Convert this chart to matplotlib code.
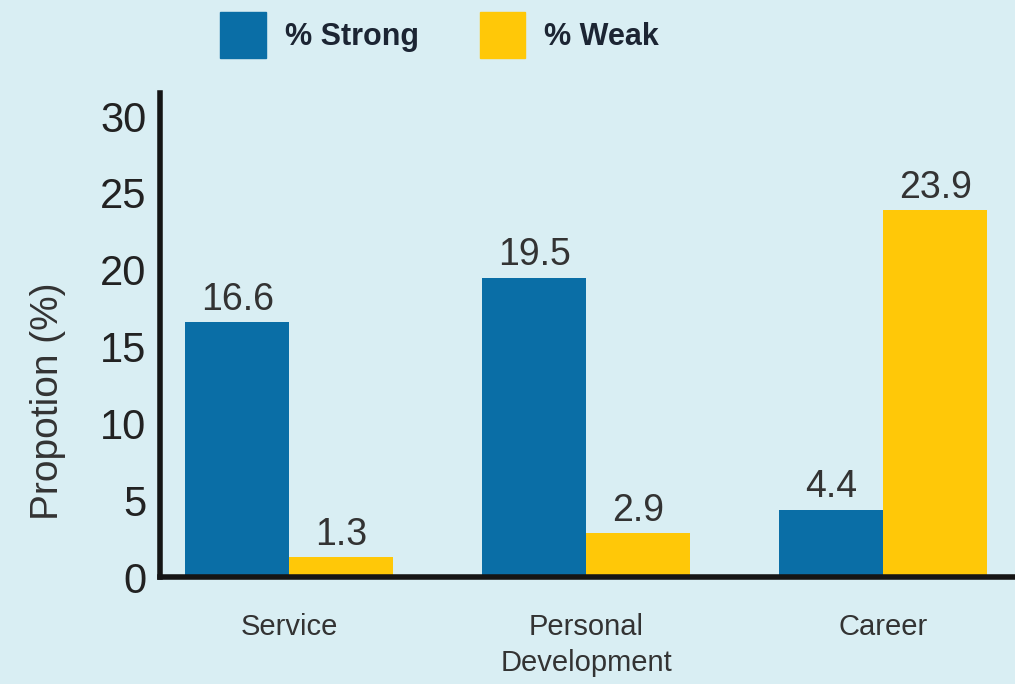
import numpy as np
import matplotlib.pyplot as plt
from matplotlib import font_manager
from matplotlib.patches import Patch

# data
categories = ["Service", "Personal\nDevelopment", "Career"]
strong = [16.6, 19.5, 4.4]
weak = [1.3, 2.9, 23.9]
yticks = [0, 5, 10, 15, 20, 25, 30]

BG = "#d9eef3"
BLUE = "#0a6ea6"
YELLOW = "#ffc808"

# narrow face if it's there, otherwise plain Liberation Sans
names = {f.name for f in font_manager.fontManager.ttflist}
main = "Liberation Sans Narrow" if "Liberation Sans Narrow" in names else "Liberation Sans"
FONT = [main, "DejaVu Sans"]
plt.rcParams["font.family"] = FONT

fig = plt.figure(figsize=(10.15, 6.84), dpi=100, facecolor=BG)
ax = fig.add_axes([0.158, 0.156, 0.842, 0.708], facecolor=BG)

x = np.arange(len(categories))
w = 0.35
b1 = ax.bar(x - w / 2, strong, w, color=BLUE, zorder=2)
b2 = ax.bar(x + w / 2, weak, w, color=YELLOW, zorder=2)

for bars, vals in ((b1, strong), (b2, weak)):
    for r, v in zip(bars, vals):
        ax.annotate(f"{v}", (r.get_x() + r.get_width() / 2, v),
                    xytext=(0, 3), textcoords="offset points",
                    ha="center", va="bottom", fontsize=27, color="#333333")

ax.set_xlim(-0.434, 2.444)
ax.set_ylim(0, 31.5)
ax.set_yticks(yticks)
ax.set_yticklabels([str(t) for t in yticks], fontsize=30, color="#222222")
ax.set_xticks(x)
ax.set_xticklabels(categories, fontsize=21, color="#333333", linespacing=1.35)
ax.tick_params(axis="both", length=0, pad=10)
ax.tick_params(axis="x", pad=26)

for s in ("top", "right"):
    ax.spines[s].set_visible(False)
for s in ("left", "bottom"):
    ax.spines[s].set_linewidth(4)
    ax.spines[s].set_color("#151515")

ax.set_ylabel("Propotion (%)", fontsize=28, color="#333333")
ax.yaxis.set_label_coords(-0.111, 0.364)

handles = [Patch(color=BLUE, label="% Strong"), Patch(color=YELLOW, label="% Weak")]
leg = fig.legend(handles=handles, loc="upper left", bbox_to_anchor=(0.19, 1.022),
                 ncol=2, frameon=False, prop={"family": FONT, "weight": "bold", "size": 22},
                 handlelength=1.5, handleheight=1.9, columnspacing=2.0, handletextpad=0.6)
for t in leg.get_texts():
    t.set_color("#1c2533")

fig.savefig("out.png", dpi=100, facecolor=BG)
